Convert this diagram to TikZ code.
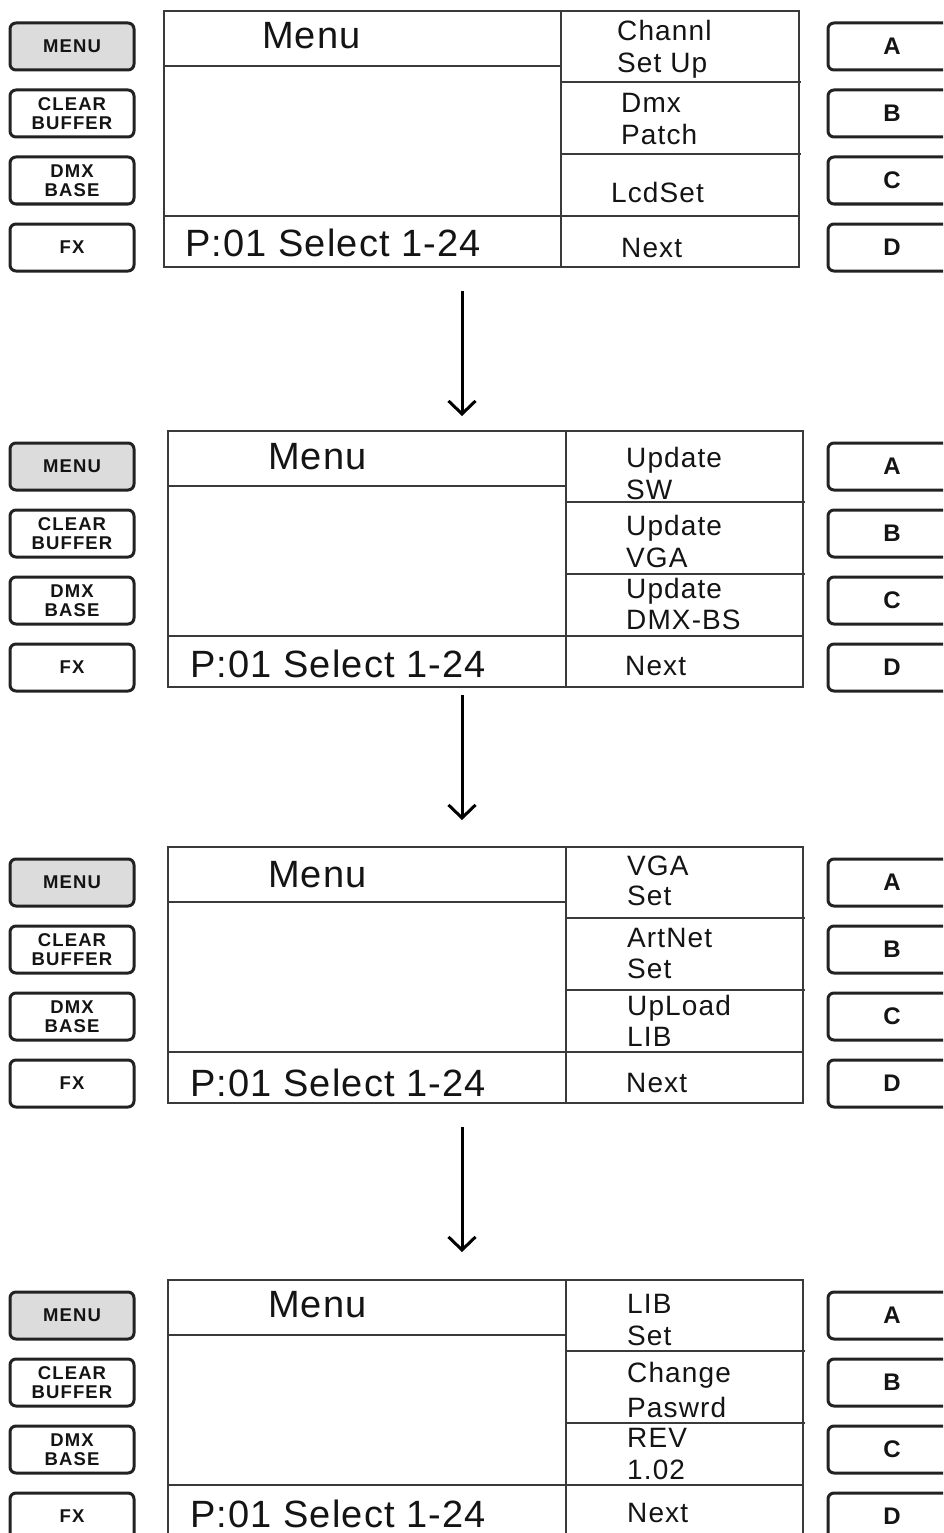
\documentclass[tikz,border=0pt]{standalone}
\usepackage{fontspec}
\setmainfont{Liberation Sans}
\newfontfamily\btnfont{Liberation Sans}[LetterSpace=6]
\newfontfamily\lcdfont{Liberation Sans}[LetterSpace=4]
\newfontfamily\bigfont{Liberation Sans}[LetterSpace=3]
\usetikzlibrary{arrows.meta}
\definecolor{menugray}{HTML}{DCDCDC}
\definecolor{linegray}{HTML}{3A3A3A}
\definecolor{btnedge}{HTML}{222222}
\definecolor{txt}{HTML}{141414}
\tikzset{
  lcd/.style={draw=linegray, line width=2pt, inner sep=0pt, fill=none},
  lcdline/.style={draw=linegray, line width=2pt},
  btn/.style={draw=btnedge, line width=3pt, rounded corners=6pt, minimum width=124pt,
    minimum height=47pt, inner sep=0pt, align=center, text=txt,
    font={\btnfont\bfseries\fontsize{18.5}{19.5}\selectfont}},
  kbtn/.style={draw=btnedge, line width=3pt, rounded corners=6pt, minimum width=128pt,
    minimum height=47pt, inner sep=0pt, text=txt,
    font={\bfseries\fontsize{24}{26}\selectfont}},
  bigtxt/.style={anchor=base west, inner sep=0pt, text=txt,
    font={\bigfont\fontsize{38}{42}\selectfont}},
  rtxt/.style={anchor=base west, inner sep=0pt, text=txt,
    font={\lcdfont\fontsize{28}{30}\selectfont}},
  flowarrow/.style={line width=3pt, black, -{Straight Barb[length=13pt,width=27pt,line width=3pt]}}
}
% #1 name, #2 left x, #3 top y, #4 divider x, #5 right x
\newcommand{\panelframe}[5]{%
  \pgfmathsetmacro{\pw}{#5-#2}%
  \node[lcd, minimum width=\pw pt, minimum height=256pt, anchor=north west] (#1) at (#2,#3) {};
  \draw[lcdline] (#2,#3+56) -- (#4,#3+56);
  \draw[lcdline] (#4,#3) -- (#4,#3+256);
  \draw[lcdline] (#4,#3+72) -- (#5+3,#3+72);
  \draw[lcdline] (#4,#3+144) -- (#5+3,#3+144);
  \draw[lcdline] (#2,#3+206) -- (#5,#3+206);
  \node[btn, fill=menugray] (#1menu) at (72,#3+13+23.5) {MENU};
  \node[btn] (#1clear) at (72,#3+80+23.5) {CLEAR\\BUFFER};
  \node[btn] (#1dmx) at (72,#3+147+23.5) {DMX\\BASE};
  \node[btn] (#1fx) at (72,#3+214+23.5) {FX};
  \node[kbtn] (#1a) at (892,#3+13+23.5) {A};
  \node[kbtn] (#1b) at (892,#3+80+23.5) {B};
  \node[kbtn] (#1c) at (892,#3+147+23.5) {C};
  \node[kbtn] (#1d) at (892,#3+214+23.5) {D};
}
\begin{document}
\begin{tikzpicture}[x=1pt,y=-1pt]
\useasboundingbox (0,0) rectangle (943,1533);
\clip (0,0) rectangle (943,1533);
\fill[white] (0,0) rectangle (943,1533);

% Panel 1
\panelframe{pa}{163}{10}{561}{798}
\node[bigtxt] (pamenut) at (262,49) {Menu};
\node[bigtxt] (pasel) at (185,256) {P:01 Select 1-24};
\node[rtxt] (pat1) at (617,41) {Channl};
\node[rtxt] (pat2) at (617,73) {Set Up};
\node[rtxt] (pat3) at (621,113) {Dmx};
\node[rtxt] (pat4) at (621,145) {Patch};
\node[rtxt] (pat5) at (611,202) {LcdSet};
\node[rtxt] (pat6) at (621,257) {Next};

% Panel 2
\panelframe{pb}{167}{430}{566}{802}
\node[bigtxt] (pbmenut) at (268,469) {Menu};
\node[bigtxt] (pbsel) at (190,677) {P:01 Select 1-24};
\node[rtxt] (pbt1) at (626,467) {Update};
\node[rtxt] (pbt2) at (626,499) {SW};
\node[rtxt] (pbt3) at (626,535) {Update};
\node[rtxt] (pbt4) at (626,567) {VGA};
\node[rtxt] (pbt5) at (626,598) {Update};
\node[rtxt] (pbt6) at (626,629) {DMX-BS};
\node[rtxt] (pbt7) at (625,675) {Next};

% Panel 3
\panelframe{pc}{167}{846}{566}{802}
\node[bigtxt] (pcmenut) at (268,887) {Menu};
\node[bigtxt] (pcsel) at (190,1096) {P:01 Select 1-24};
\node[rtxt] (pct1) at (627,875) {VGA};
\node[rtxt] (pct2) at (627,905) {Set};
\node[rtxt] (pct3) at (627,947) {ArtNet};
\node[rtxt] (pct4) at (627,978) {Set};
\node[rtxt] (pct5) at (627,1015) {UpLoad};
\node[rtxt] (pct6) at (627,1046) {LIB};
\node[rtxt] (pct7) at (626,1092) {Next};

% Panel 4
\panelframe{pd}{167}{1279}{566}{802}
\node[bigtxt] (pdmenut) at (268,1317) {Menu};
\node[bigtxt] (pdsel) at (190,1527) {P:01 Select 1-24};
\node[rtxt] (pdt1) at (627,1313) {LIB};
\node[rtxt] (pdt2) at (627,1345) {Set};
\node[rtxt] (pdt3) at (627,1382) {Change};
\node[rtxt] (pdt4) at (627,1417) {Paswrd};
\node[rtxt] (pdt5) at (627,1447) {REV};
\node[rtxt] (pdt6) at (627,1479) {1.02};
\node[rtxt] (pdt7) at (627,1522) {Next};

% Arrows
\coordinate (a1s) at (462,291);
\coordinate (a1e) at (462,416);
\coordinate (a2s) at (462,695);
\coordinate (a2e) at (462,820);
\coordinate (a3s) at (462,1127);
\coordinate (a3e) at (462,1252);
\draw[flowarrow] (a1s) -- (a1e);
\draw[flowarrow] (a2s) -- (a2e);
\draw[flowarrow] (a3s) -- (a3e);
\end{tikzpicture}
\end{document}
